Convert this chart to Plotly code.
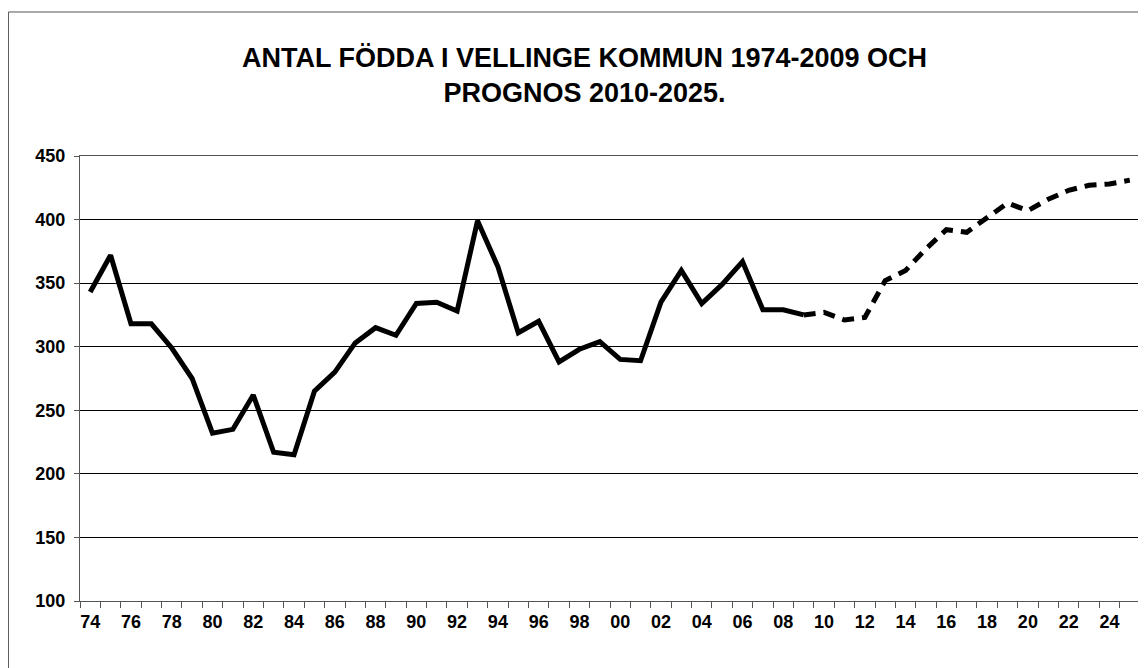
import plotly.graph_objects as go

years = list(range(1974, 2026))
hist_years = list(range(1974, 2010))
hist_values = [343, 372, 318, 318, 299, 275, 232, 235, 262, 217, 215, 265, 280, 303,
               315, 309, 334, 335, 328, 399, 363, 311, 320, 288, 298, 304, 290, 289,
               335, 360, 334, 349, 367, 329, 329, 325]
prog_years = list(range(2009, 2026))
prog_values = [325, 327, 321, 323, 352, 360, 377, 392, 390, 402, 413, 407, 416, 423,
               427, 428, 431]
tick_years = list(range(1974, 2026, 2))
tick_labels = [f"{y % 100:02d}" for y in tick_years]
y_ticks = [100, 150, 200, 250, 300, 350, 400, 450]
title_text = "ANTAL FÖDDA I VELLINGE KOMMUN 1974-2009 OCH<br>PROGNOS 2010-2025."

FONT = "Liberation Sans, Arial, sans-serif"

fig = go.Figure()
fig.add_trace(go.Scatter(x=hist_years, y=hist_values, mode="lines",
                         line=dict(color="black", width=5), showlegend=False))
fig.add_trace(go.Scatter(x=prog_years, y=prog_values, mode="lines",
                         line=dict(color="black", width=5, dash="12px,8px"),
                         showlegend=False))

boundaries = [y - 0.5 for y in years] + [years[-1] + 0.5]

fig.update_layout(
    width=1146, height=668,
    margin=dict(l=72, r=14, t=148, b=75),
    paper_bgcolor="white", plot_bgcolor="white",
    font=dict(family=FONT, color="black"),
    showlegend=False,
    xaxis=dict(
        range=[years[0] - 0.5, years[-1] + 0.5],
        tickmode="array", tickvals=tick_years, ticktext=tick_labels,
        ticks="", showgrid=False, zeroline=False,
        tickfont=dict(family=FONT, size=18, color="black", weight="bold"),
        showline=True, linecolor="#555555", linewidth=1, mirror=True,
        minor=dict(tickmode="array", tickvals=boundaries, ticks="outside",
                   ticklen=6, tickcolor="#555555", tickwidth=1, showgrid=False),
        ticklabelstandoff=4,
    ),
    yaxis=dict(
        range=[100, 450], tickmode="array", tickvals=y_ticks,
        ticks="outside", ticklen=5, tickcolor="#555555",
        showgrid=True, gridcolor="black", gridwidth=1, zeroline=False,
        tickfont=dict(family=FONT, size=18, color="black", weight="bold"),
        showline=True, linecolor="#555555", linewidth=1, mirror=True,
        ticklabelstandoff=5,
    ),
    annotations=[dict(text=title_text, xref="paper", yref="paper",
                      x=0.4755, y=1.182, xanchor="center", yanchor="middle",
                      showarrow=False,
                      font=dict(family=FONT, size=27, color="black", weight="bold"))],
    shapes=[dict(type="rect", xref="paper", yref="paper",
                 x0=-0.0675, x1=1.05, y0=-0.4, y1=1.3236,
                 line=dict(color="#555555", width=1), layer="below")],
)

fig.write_html("out.html")
